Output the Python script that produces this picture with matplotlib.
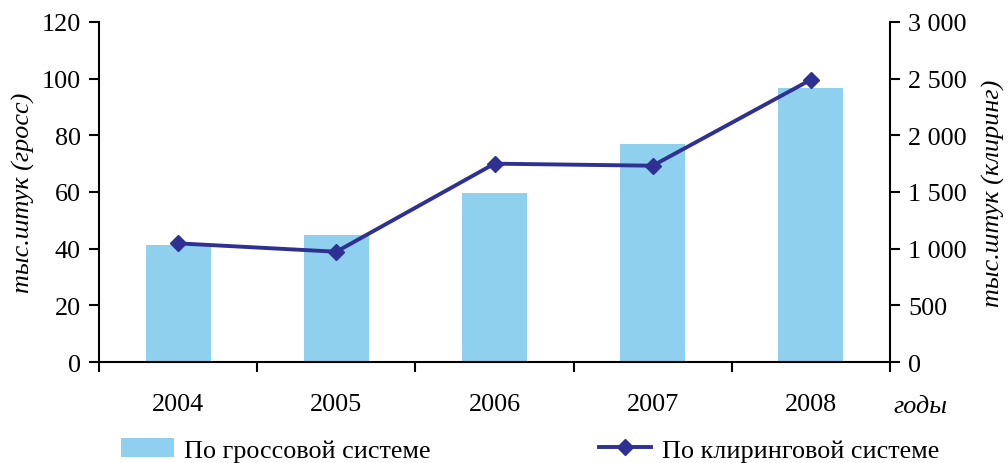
import matplotlib
matplotlib.use("Agg")
import matplotlib.pyplot as plt
from matplotlib.ticker import FuncFormatter, FixedLocator
from matplotlib.patches import Patch
from matplotlib.lines import Line2D
import numpy as np

years = ["2004", "2005", "2006", "2007", "2008"]
gross = [41.3, 44.8, 59.6, 76.9, 96.7]
clearing = [1047, 973, 1750, 1732, 2491]

plt.rcParams['font.family'] = ['Liberation Serif', 'DejaVu Serif']
plt.rcParams['font.size'] = 18.8

bar_color = '#8ED0EE'
line_color = '#2E3192'

fig = plt.figure(figsize=(10.08, 4.64), dpi=100)
ax = fig.add_axes([99/1008, 1 - 363/464, (890-99)/1008, (363-23)/464])
x = np.arange(len(years))
ax.bar(x, gross, width=0.41, color=bar_color, zorder=2)
ax.set_xlim(-0.5, len(years) - 0.5)
ax.set_ylim(0, 120)
ax.set_yticks(range(0, 121, 20))

ax2 = ax.twinx()
ax2.plot(x, clearing, color=line_color, lw=2.8, marker='D', markersize=8, zorder=3)
ax2.set_ylim(0, 3000)
ax2.set_yticks(range(0, 3001, 500))
ax2.yaxis.set_major_formatter(FuncFormatter(lambda v, p: f"{int(v):,}".replace(",", " ")))

for a in (ax, ax2):
    a.spines['top'].set_visible(False)
    for s in a.spines.values():
        s.set_linewidth(1.5)
ax2.spines['left'].set_visible(False)
ax2.spines['bottom'].set_visible(False)
ax.spines['right'].set_visible(False)

ax.xaxis.set_major_locator(FixedLocator(np.arange(-0.5, len(years), 1.0)))
ax.xaxis.set_minor_locator(FixedLocator(x))
ax.set_xticklabels([], minor=False)
ax.set_xticklabels(years, minor=True)
ax.tick_params(axis='x', which='major', direction='out', length=7, width=1.5)
ax.tick_params(axis='x', which='minor', length=0, pad=22)
ax.tick_params(axis='y', direction='out', length=7, width=1.5, pad=6)
ax2.tick_params(axis='y', direction='out', length=7, width=1.5, pad=6)

ax.set_ylabel("тыс.штук (гросс)", fontstyle='italic', va='center')
ax.yaxis.set_label_coords((23 - 99) / 791, 0.5)
ax2.set_ylabel("тыс.штук (клиринг)", fontstyle='italic', rotation=90, va='center')
ax2.yaxis.set_label_coords((993 - 99) / 791, 0.5)

fig.text(920/1008, 1 - 407/464, "годы", fontstyle='italic', ha='center', va='center')

handles = [Patch(facecolor=bar_color, edgecolor='none'),
           Line2D([0], [0], color=line_color, lw=2.8, marker='D', markersize=8)]
labels = ["По гроссовой системе", "По клиринговой системе"]
fig.legend(handles, labels, loc='lower left', bbox_to_anchor=(111/1008, -9/464),
           ncol=2, frameon=False, columnspacing=6.45, handlelength=2.0,
           handletextpad=0.4, borderaxespad=0)

fig.savefig("out.png", dpi=100)
